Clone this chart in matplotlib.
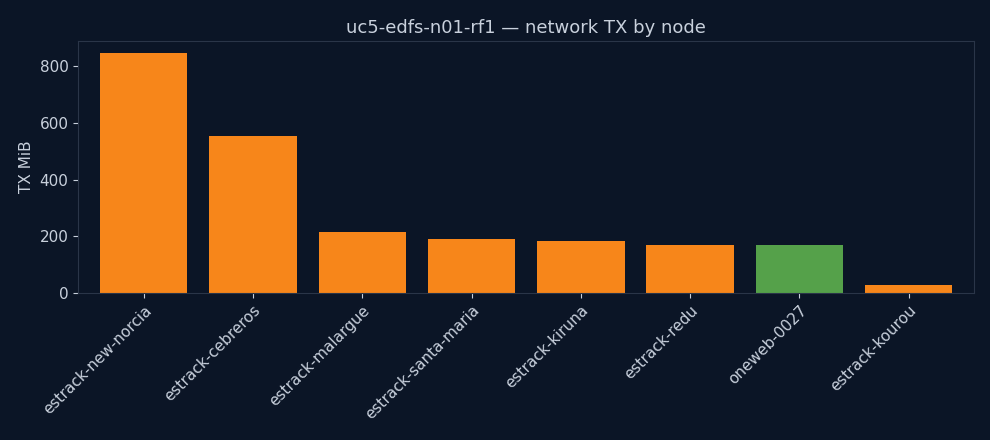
import matplotlib
matplotlib.use("Agg")
import matplotlib.pyplot as plt

nodes = ["estrack-new-norcia", "estrack-cebreros", "estrack-malargue", "estrack-santa-maria",
         "estrack-kiruna", "estrack-redu", "oneweb-0027", "estrack-kourou"]
tx_mib = [848, 555, 215, 190, 183, 168, 168, 28]
colors = ["#f7861a"] * 6 + ["#55a14a"] + ["#f7861a"]

bg = "#0b1526"
fg = "#c8d0dc"
fig = plt.figure(figsize=(9.9, 4.4), dpi=100, facecolor=bg)
ax = fig.add_axes([0.079, 0.334, 0.905, 0.573], facecolor=bg)
ax.bar(nodes, tx_mib, color=colors, width=0.8)
ax.set_ylim(0, 890)
ax.set_xlim(-0.6, 7.6)
ax.set_ylabel("TX MiB", color=fg, fontsize=11)
ax.set_title("uc5-edfs-n01-rf1 — network TX by node", color=fg, fontsize=13)
ax.tick_params(colors=fg, labelsize=11)
for s in ax.spines.values():
    s.set_color("#2a3548")
plt.setp(ax.get_xticklabels(), rotation=45, ha="right", rotation_mode="anchor")
fig.savefig("out.png", dpi=100, facecolor=bg)
